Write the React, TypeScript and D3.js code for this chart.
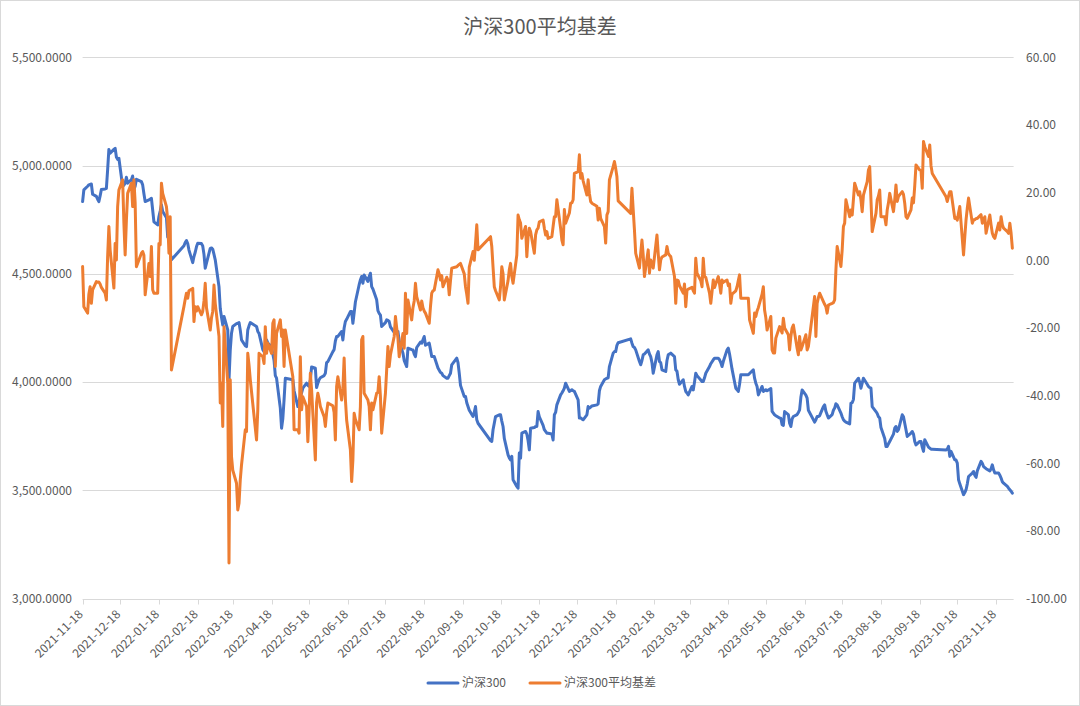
import React from "react";
import * as d3 from "d3";

// 沪深300 index (left axis)
const hs300Data: [string, number][] = [
["2021-11-18",4834],["2021-11-19",4888],["2021-11-22",4905],["2021-11-23",4911],["2021-11-24",4913],["2021-11-25",4915],["2021-11-26",4868],["2021-11-29",4858],["2021-11-30",4845],
["2021-12-01",4834],["2021-12-02",4860],["2021-12-03",4890],["2021-12-06",4892],["2021-12-07",4895],["2021-12-08",4980],["2021-12-09",5075],["2021-12-10",5057],["2021-12-13",5075],["2021-12-14",5080],["2021-12-15",5040],["2021-12-16",5029],["2021-12-17",5034],["2021-12-20",4903],["2021-12-21",4910],["2021-12-22",4919],["2021-12-23",4946],["2021-12-24",4919],["2021-12-27",4935],["2021-12-28",4952],["2021-12-29",4890],["2021-12-30",4905],["2021-12-31",4937],
["2022-01-04",4926],["2022-01-05",4911],["2022-01-06",4870],["2022-01-07",4834],["2022-01-10",4842],["2022-01-11",4845],["2022-01-12",4849],["2022-01-13",4795],["2022-01-14",4740],["2022-01-17",4726],["2022-01-18",4765],["2022-01-19",4790],["2022-01-20",4819],["2022-01-21",4788],["2022-01-24",4760],["2022-01-25",4670],["2022-01-26",4690],["2022-01-27",4600],["2022-01-28",4565],
["2022-02-07",4630],["2022-02-08",4645],["2022-02-09",4654],["2022-02-10",4640],["2022-02-11",4610],["2022-02-14",4552],["2022-02-15",4580],["2022-02-16",4600],["2022-02-17",4625],["2022-02-18",4641],["2022-02-21",4640],["2022-02-22",4629],["2022-02-23",4590],["2022-02-24",4526],["2022-02-25",4550],["2022-02-28",4618],
["2022-03-01",4620],["2022-03-02",4614],["2022-03-03",4590],["2022-03-04",4565],["2022-03-07",4441],["2022-03-08",4340],["2022-03-09",4300],["2022-03-10",4264],["2022-03-11",4303],["2022-03-14",4241],["2022-03-15",4011],["2022-03-16",4149],["2022-03-17",4226],["2022-03-18",4257],["2022-03-21",4270],["2022-03-22",4272],["2022-03-23",4275],["2022-03-24",4240],["2022-03-25",4195],["2022-03-28",4168],["2022-03-29",4164],["2022-03-30",4241],["2022-03-31",4260],
["2022-04-01",4275],["2022-04-06",4257],["2022-04-07",4234],["2022-04-08",4225],["2022-04-11",4150],["2022-04-12",4141],["2022-04-13",4170],["2022-04-14",4195],["2022-04-15",4180],["2022-04-18",4164],["2022-04-19",4130],["2022-04-20",4100],["2022-04-21",4030],["2022-04-22",4018],["2022-04-25",3880],["2022-04-26",3787],["2022-04-27",3830],["2022-04-28",3918],["2022-04-29",4018],
["2022-05-05",4011],["2022-05-06",3960],["2022-05-09",3887],["2022-05-10",3910],["2022-05-11",3934],["2022-05-12",3950],["2022-05-13",3972],["2022-05-16",3995],["2022-05-17",3985],["2022-05-18",3980],["2022-05-19",4011],["2022-05-20",4070],["2022-05-23",4064],["2022-05-24",3975],["2022-05-25",3995],["2022-05-26",4011],["2022-05-27",4020],["2022-05-30",4030],["2022-05-31",4041],
["2022-06-01",4090],["2022-06-02",4095],["2022-06-06",4141],["2022-06-07",4150],["2022-06-08",4190],["2022-06-09",4211],["2022-06-10",4211],["2022-06-13",4234],["2022-06-14",4195],["2022-06-15",4250],["2022-06-16",4280],["2022-06-17",4290],["2022-06-20",4326],["2022-06-21",4326],["2022-06-22",4272],["2022-06-23",4320],["2022-06-24",4370],["2022-06-27",4450],["2022-06-28",4472],["2022-06-29",4488],["2022-06-30",4457],
["2022-07-01",4495],["2022-07-04",4465],["2022-07-05",4488],["2022-07-06",4503],["2022-07-07",4441],["2022-07-08",4430],["2022-07-11",4380],["2022-07-12",4330],["2022-07-13",4318],["2022-07-14",4310],["2022-07-15",4257],["2022-07-18",4275],["2022-07-19",4288],["2022-07-20",4285],["2022-07-21",4280],["2022-07-22",4255],["2022-07-25",4230],["2022-07-26",4226],["2022-07-27",4230],["2022-07-28",4234],["2022-07-29",4190],
["2022-08-01",4134],["2022-08-02",4100],["2022-08-03",4085],["2022-08-04",4072],["2022-08-05",4157],["2022-08-08",4150],["2022-08-09",4149],["2022-08-10",4130],["2022-08-11",4118],["2022-08-12",4160],["2022-08-15",4185],["2022-08-16",4180],["2022-08-17",4195],["2022-08-18",4211],["2022-08-19",4170],["2022-08-22",4180],["2022-08-23",4150],["2022-08-24",4118],["2022-08-25",4118],["2022-08-26",4118],["2022-08-29",4065],["2022-08-30",4055],["2022-08-31",4045],
["2022-09-01",4041],["2022-09-02",4030],["2022-09-05",4018],["2022-09-06",4018],["2022-09-07",4030],["2022-09-08",4041],["2022-09-09",4080],["2022-09-13",4111],["2022-09-14",4090],["2022-09-15",4041],["2022-09-16",3985],["2022-09-19",3934],["2022-09-20",3934],["2022-09-21",3905],["2022-09-22",3887],["2022-09-23",3870],["2022-09-26",3841],["2022-09-27",3860],["2022-09-28",3887],["2022-09-29",3826],["2022-09-30",3810],
["2022-10-10",3730],["2022-10-11",3726],["2022-10-12",3780],["2022-10-13",3810],["2022-10-14",3841],["2022-10-17",3849],["2022-10-18",3849],["2022-10-19",3820],["2022-10-20",3795],["2022-10-21",3740],["2022-10-24",3664],["2022-10-25",3650],["2022-10-26",3641],["2022-10-27",3657],["2022-10-28",3549],["2022-10-31",3518],
["2022-11-01",3510],["2022-11-02",3672],["2022-11-03",3649],["2022-11-04",3764],["2022-11-07",3772],["2022-11-08",3760],["2022-11-09",3730],["2022-11-10",3687],["2022-11-11",3787],["2022-11-14",3790],["2022-11-15",3795],["2022-11-16",3795],["2022-11-17",3864],["2022-11-18",3840],["2022-11-21",3800],["2022-11-22",3780],["2022-11-23",3772],["2022-11-24",3764],["2022-11-25",3764],["2022-11-28",3760],["2022-11-29",3733],["2022-11-30",3849],
["2022-12-01",3860],["2022-12-02",3895],["2022-12-05",3941],["2022-12-06",3950],["2022-12-07",3960],["2022-12-08",3972],["2022-12-09",3995],["2022-12-12",3957],["2022-12-13",3960],["2022-12-14",3965],["2022-12-15",3960],["2022-12-16",3957],["2022-12-19",3918],["2022-12-20",3834],["2022-12-21",3835],["2022-12-22",3830],["2022-12-23",3826],["2022-12-26",3849],["2022-12-27",3887],["2022-12-28",3880],["2022-12-29",3885],["2022-12-30",3890],
["2023-01-03",3895],["2023-01-04",3900],["2023-01-05",3960],["2023-01-06",3980],["2023-01-09",4011],["2023-01-10",4015],["2023-01-11",4018],["2023-01-12",4020],["2023-01-13",4072],["2023-01-16",4134],["2023-01-17",4141],["2023-01-18",4141],["2023-01-19",4170],["2023-01-20",4182],["2023-01-30",4200],["2023-01-31",4180],
["2023-02-01",4164],["2023-02-02",4160],["2023-02-03",4149],["2023-02-06",4095],["2023-02-07",4080],["2023-02-08",4100],["2023-02-09",4126],["2023-02-10",4130],["2023-02-13",4149],["2023-02-14",4130],["2023-02-15",4118],["2023-02-16",4090],["2023-02-17",4041],["2023-02-20",4126],["2023-02-21",4141],["2023-02-22",4095],["2023-02-23",4090],["2023-02-24",4057],["2023-02-27",4049],["2023-02-28",4100],
["2023-03-01",4126],["2023-03-02",4130],["2023-03-03",4134],["2023-03-06",4118],["2023-03-07",4057],["2023-03-08",4050],["2023-03-09",4011],["2023-03-10",3990],["2023-03-13",4011],["2023-03-14",3980],["2023-03-15",3957],["2023-03-16",3950],["2023-03-17",3941],["2023-03-20",3980],["2023-03-21",3964],["2023-03-22",4000],["2023-03-23",4041],["2023-03-24",4030],["2023-03-27",4010],["2023-03-28",4003],["2023-03-29",4003],["2023-03-30",4020],["2023-03-31",4041],
["2023-04-03",4072],["2023-04-04",4085],["2023-04-06",4103],["2023-04-07",4110],["2023-04-10",4110],["2023-04-11",4103],["2023-04-12",4090],["2023-04-13",4072],["2023-04-14",4095],["2023-04-17",4149],["2023-04-18",4157],["2023-04-19",4130],["2023-04-20",4095],["2023-04-21",4060],["2023-04-24",3972],["2023-04-25",3965],["2023-04-26",3957],["2023-04-27",3990],["2023-04-28",4034],
["2023-05-04",4034],["2023-05-05",4040],["2023-05-08",4057],["2023-05-09",4018],["2023-05-10",3995],["2023-05-11",3980],["2023-05-12",3941],["2023-05-15",3980],["2023-05-16",3957],["2023-05-17",3960],["2023-05-18",3965],["2023-05-19",3960],["2023-05-22",3970],["2023-05-23",3865],["2023-05-24",3857],["2023-05-25",3849],["2023-05-26",3845],["2023-05-29",3834],["2023-05-30",3833],["2023-05-31",3803],
["2023-06-01",3800],["2023-06-02",3864],["2023-06-05",3850],["2023-06-06",3810],["2023-06-07",3795],["2023-06-08",3830],["2023-06-09",3841],["2023-06-12",3850],["2023-06-13",3860],["2023-06-14",3872],["2023-06-15",3930],["2023-06-16",3964],["2023-06-19",3940],["2023-06-20",3926],["2023-06-21",3870],["2023-06-26",3815],["2023-06-27",3826],["2023-06-28",3841],["2023-06-29",3841],["2023-06-30",3845],
["2023-07-03",3887],["2023-07-04",3895],["2023-07-05",3865],["2023-07-06",3849],["2023-07-07",3834],["2023-07-10",3850],["2023-07-11",3870],["2023-07-12",3880],["2023-07-13",3900],["2023-07-14",3895],["2023-07-17",3857],["2023-07-18",3840],["2023-07-19",3826],["2023-07-20",3820],["2023-07-21",3815],["2023-07-24",3807],["2023-07-25",3903],["2023-07-26",3905],["2023-07-27",3920],["2023-07-28",3995],["2023-07-31",4018],
["2023-08-01",4000],["2023-08-02",3972],["2023-08-03",3995],["2023-08-04",4018],["2023-08-07",3990],["2023-08-08",3980],["2023-08-09",3975],["2023-08-10",3972],["2023-08-11",3887],["2023-08-14",3864],["2023-08-15",3855],["2023-08-16",3840],["2023-08-17",3834],["2023-08-18",3790],["2023-08-21",3740],["2023-08-22",3703],["2023-08-23",3703],["2023-08-24",3715],["2023-08-25",3726],["2023-08-28",3760],["2023-08-29",3787],["2023-08-30",3795],["2023-08-31",3772],
["2023-09-01",3780],["2023-09-04",3849],["2023-09-05",3840],["2023-09-06",3810],["2023-09-07",3780],["2023-09-08",3749],["2023-09-11",3764],["2023-09-12",3772],["2023-09-13",3760],["2023-09-14",3726],["2023-09-15",3710],["2023-09-18",3726],["2023-09-19",3726],["2023-09-20",3700],["2023-09-21",3680],["2023-09-22",3734],["2023-09-25",3700],["2023-09-26",3695],["2023-09-27",3690],["2023-09-28",3690],
["2023-10-09",3687],["2023-10-10",3690],["2023-10-11",3703],["2023-10-12",3657],["2023-10-13",3680],["2023-10-16",3641],["2023-10-17",3640],["2023-10-18",3626],["2023-10-19",3549],["2023-10-20",3530],["2023-10-23",3480],["2023-10-24",3490],["2023-10-25",3503],["2023-10-26",3530],["2023-10-27",3564],["2023-10-30",3580],["2023-10-31",3587],
["2023-11-01",3570],["2023-11-02",3560],["2023-11-03",3590],["2023-11-06",3634],["2023-11-07",3625],["2023-11-08",3610],["2023-11-09",3605],["2023-11-10",3600],["2023-11-13",3590],["2023-11-14",3600],["2023-11-15",3618],["2023-11-16",3595],["2023-11-17",3580],["2023-11-20",3580],["2023-11-21",3570],["2023-11-22",3557],["2023-11-23",3540],["2023-11-24",3533],["2023-11-27",3518],["2023-11-28",3510],["2023-11-29",3503],["2023-11-30",3496],
["2023-12-01",3487]
];

// 沪深300平均基差 (right axis)
const basisData: [string, number][] = [
["2021-11-18",-1.8],["2021-11-19",-13.7],["2021-11-22",-15.6],["2021-11-23",-10],["2021-11-24",-7.8],["2021-11-25",-12.7],["2021-11-26",-8.7],["2021-11-29",-6.3],["2021-11-30",-6.5],
["2021-12-01",-6.4],["2021-12-02",-7.0],["2021-12-03",-8],["2021-12-06",-9.7],["2021-12-07",-11.7],["2021-12-08",1.1],["2021-12-09",10.0],["2021-12-10",3.1],["2021-12-13",-8.2],["2021-12-14",5.0],["2021-12-15",0.1],["2021-12-16",15.9],["2021-12-17",20.8],["2021-12-20",23.8],["2021-12-21",11.0],["2021-12-22",1.6],["2021-12-23",11.9],["2021-12-24",19.8],["2021-12-27",22.8],["2021-12-28",15.9],["2021-12-29",23.8],["2021-12-30",16.9],["2021-12-31",-1.9],
["2022-01-04",2.1],["2022-01-05",2.6],["2022-01-06",1.5],["2022-01-07",-10.2],["2022-01-10",-0.9],["2022-01-11",-4.8],["2022-01-12",4.1],["2022-01-13",-8.7],["2022-01-14",-9.7],["2022-01-17",-9.7],["2022-01-18",5.0],["2022-01-19",4.6],["2022-01-20",22.8],["2022-01-21",19.8],["2022-01-24",15.9],["2022-01-25",11.9],["2022-01-26",2.1],["2022-01-27",12.9],["2022-01-28",-32.4],
["2022-02-07",-13.6],["2022-02-08",-11.5],["2022-02-09",-9.7],["2022-02-10",-11.2],["2022-02-11",-9],["2022-02-14",-8.3],["2022-02-15",-18.1],["2022-02-16",-13.7],["2022-02-17",-15],["2022-02-18",-13.7],["2022-02-21",-16.1],["2022-02-22",-15.1],["2022-02-23",-12],["2022-02-24",-6.8],["2022-02-25",-14],["2022-02-28",-20.6],
["2022-03-01",-17],["2022-03-02",-15.1],["2022-03-03",-7.3],["2022-03-04",-12.7],["2022-03-07",-22.5],["2022-03-08",-42.2],["2022-03-09",-36.3],["2022-03-10",-49.1],["2022-03-11",-19.6],["2022-03-14",-36.3],["2022-03-15",-89.5],["2022-03-16",-35.3],["2022-03-17",-58],["2022-03-18",-62],["2022-03-21",-65.9],["2022-03-22",-73.8],["2022-03-23",-71.8],["2022-03-24",-64.9],["2022-03-25",-60.5],["2022-03-28",-50.1],["2022-03-29",-50.6],["2022-03-30",-27.5],["2022-03-31",-31],
["2022-04-01",-35.3],["2022-04-06",-53.1],["2022-04-07",-44.2],["2022-04-08",-27.5],["2022-04-11",-28.5],["2022-04-12",-30.5],["2022-04-13",-19.6],["2022-04-14",-27.5],["2022-04-15",-24.5],["2022-04-18",-27.5],["2022-04-19",-18.6],["2022-04-20",-17.6],["2022-04-21",-31.4],["2022-04-22",-21.6],["2022-04-25",-17.6],["2022-04-26",-22.5],["2022-04-27",-20.6],["2022-04-28",-31.4],["2022-04-29",-20.6],
["2022-05-05",-34.4],["2022-05-06",-50.1],["2022-05-09",-50.1],["2022-05-10",-51.1],["2022-05-11",-28.5],["2022-05-12",-44.2],["2022-05-13",-40.3],["2022-05-16",-43.2],["2022-05-17",-53.6],["2022-05-18",-45],["2022-05-19",-33.4],["2022-05-20",-38.3],["2022-05-23",-59],["2022-05-24",-42],["2022-05-25",-39.3],["2022-05-26",-41],["2022-05-27",-43.2],["2022-05-30",-46.2],["2022-05-31",-49.1],
["2022-06-01",-45],["2022-06-02",-42.2],["2022-06-06",-43],["2022-06-07",-45],["2022-06-08",-53.1],["2022-06-09",-37.3],["2022-06-10",-34.4],["2022-06-13",-41.3],["2022-06-14",-38],["2022-06-15",-28.9],["2022-06-16",-41],["2022-06-17",-47.2],["2022-06-20",-56],["2022-06-21",-65.4],["2022-06-22",-59],["2022-06-23",-45.2],["2022-06-24",-47],["2022-06-27",-50.1],["2022-06-28",-43.2],["2022-06-29",-23.5],["2022-06-30",-22.5],
["2022-07-01",-39.3],["2022-07-04",-41.3],["2022-07-05",-43.2],["2022-07-06",-50.1],["2022-07-07",-42.2],["2022-07-08",-44.2],["2022-07-11",-39.3],["2022-07-12",-39],["2022-07-13",-34.4],["2022-07-14",-40.3],["2022-07-15",-51.1],["2022-07-18",-39.3],["2022-07-19",-32.4],["2022-07-20",-25.5],["2022-07-21",-31.4],["2022-07-22",-28],["2022-07-25",-22.5],["2022-07-26",-16.6],["2022-07-27",-20],["2022-07-28",-23],["2022-07-29",-28.5],
["2022-08-01",-21.6],["2022-08-02",-26],["2022-08-03",-9.7],["2022-08-04",-21.6],["2022-08-05",-11.7],["2022-08-08",-17.6],["2022-08-09",-14],["2022-08-10",-12],["2022-08-11",-6.8],["2022-08-12",-10.7],["2022-08-15",-14.7],["2022-08-16",-12],["2022-08-17",-14],["2022-08-18",-15],["2022-08-19",-15.6],["2022-08-22",-18.6],["2022-08-23",-13.7],["2022-08-24",-9.7],["2022-08-25",-9],["2022-08-26",-8.8],["2022-08-29",-2.8],["2022-08-30",-4],["2022-08-31",-5.8],
["2022-09-01",-4.5],["2022-09-02",-7.8],["2022-09-05",-5],["2022-09-06",-6],["2022-09-07",-10.2],["2022-09-08",-6],["2022-09-09",-2.3],["2022-09-13",-1.9],["2022-09-14",-1.5],["2022-09-15",-1.2],["2022-09-16",-0.9],["2022-09-19",-4],["2022-09-20",-7.8],["2022-09-21",-10],["2022-09-22",-12.7],["2022-09-23",-2],["2022-09-26",2.6],["2022-09-27",0],["2022-09-28",5],["2022-09-29",10.5],["2022-09-30",3.1],
["2022-10-10",7.0],["2022-10-11",4.1],["2022-10-12",-2],["2022-10-13",-7.8],["2022-10-14",-9],["2022-10-17",-11.7],["2022-10-18",-7.8],["2022-10-19",-1.9],["2022-10-20",-4],["2022-10-21",-11.7],["2022-10-24",-6],["2022-10-25",-2.8],["2022-10-26",-0.9],["2022-10-27",-4.8],["2022-10-28",-6.8],["2022-10-31",1.6],
["2022-11-01",13.4],["2022-11-02",12],["2022-11-03",11],["2022-11-04",6.5],["2022-11-07",10],["2022-11-08",1.1],["2022-11-09",7.0],["2022-11-10",9.5],["2022-11-11",8.5],["2022-11-14",2.1],["2022-11-15",7.5],["2022-11-16",9.0],["2022-11-17",9.5],["2022-11-18",11.4],["2022-11-21",11.9],["2022-11-22",9.5],["2022-11-23",7.5],["2022-11-24",8.5],["2022-11-25",6.5],["2022-11-28",7.0],["2022-11-29",10],["2022-11-30",12.9],
["2022-12-01",12.9],["2022-12-02",17.9],["2022-12-05",9.5],["2022-12-06",6.0],["2022-12-07",4.6],["2022-12-08",15],["2022-12-09",11],["2022-12-12",14],["2022-12-13",16.9],["2022-12-14",17],["2022-12-15",17.9],["2022-12-16",25.7],["2022-12-19",26.2],["2022-12-20",31.2],["2022-12-21",24.3],["2022-12-22",25.7],["2022-12-23",23.5],["2022-12-26",19.3],["2022-12-27",23.8],["2022-12-28",19.8],["2022-12-29",17.4],["2022-12-30",16.9],
["2023-01-03",16],["2023-01-04",11.9],["2023-01-05",15.4],["2023-01-06",12.4],["2023-01-09",10],["2023-01-10",5.1],["2023-01-11",13.4],["2023-01-12",14.4],["2023-01-13",23.8],["2023-01-16",27.7],["2023-01-17",29.2],["2023-01-18",27.2],["2023-01-19",24.7],["2023-01-20",17.6],["2023-01-30",13.9],["2023-01-31",21.3],
["2023-02-01",15],["2023-02-02",9.0],["2023-02-03",2.1],["2023-02-06",-2.3],["2023-02-07",2.1],["2023-02-08",6.0],["2023-02-09",1.6],["2023-02-10",-4.8],["2023-02-13",3.1],["2023-02-14",-3.8],["2023-02-15",0.1],["2023-02-16",-1],["2023-02-17",-2.3],["2023-02-20",7.5],["2023-02-21",2],["2023-02-22",-2.8],["2023-02-23",0.1],["2023-02-24",1.0],["2023-02-27",1.6],["2023-02-28",4.1],
["2023-03-01",2.1],["2023-03-02",1.5],["2023-03-03",1.1],["2023-03-06",-4.8],["2023-03-07",-12.7],["2023-03-08",-5.8],["2023-03-09",-6],["2023-03-10",-7.5],["2023-03-13",-9.7],["2023-03-14",-7],["2023-03-15",-13.7],["2023-03-16",-8.8],["2023-03-17",-8.5],["2023-03-20",-8],["2023-03-21",-9],["2023-03-22",-9.7],["2023-03-23",0.6],["2023-03-24",-3.8],["2023-03-27",-6],["2023-03-28",-7.8],["2023-03-29",0.6],["2023-03-30",-4.8],["2023-03-31",-5],
["2023-04-03",-9.7],["2023-04-04",-12.7],["2023-04-06",-5.8],["2023-04-07",-8],["2023-04-10",-4.8],["2023-04-11",-7],["2023-04-12",-9.7],["2023-04-13",-5.8],["2023-04-14",-6.5],["2023-04-17",-5.8],["2023-04-18",-7.5],["2023-04-19",-7],["2023-04-20",-12.7],["2023-04-21",-10],["2023-04-24",-9],["2023-04-25",-7.8],["2023-04-26",-6],["2023-04-27",-4.3],["2023-04-28",-11.2],
["2023-05-04",-11.2],["2023-05-05",-17.6],["2023-05-08",-21.6],["2023-05-09",-15.6],["2023-05-10",-16.6],["2023-05-11",-15],["2023-05-12",-14],["2023-05-15",-10],["2023-05-16",-7.8],["2023-05-17",-14.7],["2023-05-18",-17],["2023-05-19",-20.6],["2023-05-22",-16.6],["2023-05-23",-26.5],["2023-05-24",-27.4],["2023-05-25",-27.4],["2023-05-26",-23],["2023-05-29",-19.6],["2023-05-30",-20.5],["2023-05-31",-21.5],
["2023-06-01",-17.1],["2023-06-02",-20],["2023-06-05",-22],["2023-06-06",-26.5],["2023-06-07",-22.5],["2023-06-08",-20],["2023-06-09",-19.1],["2023-06-12",-26],["2023-06-13",-27.9],["2023-06-14",-22.5],["2023-06-15",-26.5],["2023-06-16",-25.5],["2023-06-19",-22],["2023-06-20",-26.5],["2023-06-21",-25.5],["2023-06-26",-10.7],["2023-06-27",-22.5],["2023-06-28",-12.7],["2023-06-29",-11],["2023-06-30",-9.7],
["2023-07-03",-12.2],["2023-07-04",-13],["2023-07-05",-13.7],["2023-07-06",-15.6],["2023-07-07",-13.2],["2023-07-10",-12.7],["2023-07-11",-12.5],["2023-07-12",-11.7],["2023-07-13",-2.8],["2023-07-14",4.1],["2023-07-17",-1.8],["2023-07-18",3],["2023-07-19",10],["2023-07-20",11],["2023-07-21",17.9],["2023-07-24",12.9],["2023-07-25",14.9],["2023-07-26",13.4],["2023-07-27",18],["2023-07-28",22.8],["2023-07-31",19.3],
["2023-08-01",20.3],["2023-08-02",17.9],["2023-08-03",14.4],["2023-08-04",19.3],["2023-08-07",23.3],["2023-08-08",26.7],["2023-08-09",27.7],["2023-08-10",18],["2023-08-11",8.5],["2023-08-14",13.9],["2023-08-15",17.9],["2023-08-16",19],["2023-08-17",20.8],["2023-08-18",12.9],["2023-08-21",12.9],["2023-08-22",10.5],["2023-08-23",14.9],["2023-08-24",17],["2023-08-25",19.8],["2023-08-28",14.4],["2023-08-29",17.9],["2023-08-30",22.3],["2023-08-31",17.4],
["2023-09-01",18.9],["2023-09-04",20.3],["2023-09-05",19.5],["2023-09-06",16.9],["2023-09-07",12.9],["2023-09-08",12.4],["2023-09-11",14.9],["2023-09-12",18.4],["2023-09-13",17],["2023-09-14",22],["2023-09-15",28.2],["2023-09-18",26.7],["2023-09-19",26.5],["2023-09-20",21.3],["2023-09-21",35.1],["2023-09-22",33.6],["2023-09-25",30.7],["2023-09-26",34.1],["2023-09-27",28],["2023-09-28",25.7],
["2023-10-09",18.8],["2023-10-10",17.4],["2023-10-11",19],["2023-10-12",20.3],["2023-10-13",20.3],["2023-10-16",12.4],["2023-10-17",12.6],["2023-10-18",11.9],["2023-10-19",14],["2023-10-20",15.9],["2023-10-23",1.6],["2023-10-24",7.0],["2023-10-25",12],["2023-10-26",15.4],["2023-10-27",18.4],["2023-10-30",11],["2023-10-31",12],
["2023-11-01",12],["2023-11-02",12.4],["2023-11-03",12.4],["2023-11-06",13.5],["2023-11-07",11],["2023-11-08",12],["2023-11-09",12.9],["2023-11-10",8.0],["2023-11-13",13.4],["2023-11-14",10.5],["2023-11-15",8.0],["2023-11-16",7],["2023-11-17",6.5],["2023-11-20",11],["2023-11-21",9.0],["2023-11-22",12.9],["2023-11-23",10.5],["2023-11-24",9.5],["2023-11-27",8.5],["2023-11-28",8],["2023-11-29",11],["2023-11-30",8.0],
["2023-12-01",3.6]
];

const leftTicks = [3000, 3500, 4000, 4500, 5000, 5500];
const rightTicks = [-100, -80, -60, -40, -20, 0, 20, 40, 60];
const dateTicks = [
  "2021-11-18","2021-12-18","2022-01-18","2022-02-18","2022-03-18","2022-04-18","2022-05-18","2022-06-18",
  "2022-07-18","2022-08-18","2022-09-18","2022-10-18","2022-11-18","2022-12-18","2023-01-18","2023-02-18",
  "2023-03-18","2023-04-18","2023-05-18","2023-06-18","2023-07-18","2023-08-18","2023-09-18","2023-10-18","2023-11-18"
];
const seriesNames = ["沪深300", "沪深300平均基差"];
const seriesColors = ["#4472C4", "#ED7D31"];
const titleText = "沪深300平均基差";

const W = 1080;
const H = 706;
const FONT = "'Noto Sans CJK SC', 'Liberation Sans', sans-serif";
const TEXT = "#595959";
const GRID = "#D9D9D9";

export default function App() {
  const parse = d3.utcParse("%Y-%m-%d");
  const left = 82.6, right = 1013.6, top = 57.4, bottom = 598.6;
  const x = d3.scaleUtc().domain([parse("2021-11-18")!, parse("2023-12-02")!]).range([left, right]);
  const yL = d3.scaleLinear().domain([3000, 5500]).range([bottom, top]);
  const yR = d3.scaleLinear().domain([-100, 60]).range([bottom, top]);
  const loc = d3.formatLocale({ decimal: ".", thousands: ",", grouping: [3], currency: ["", ""], minus: "-" });
  const fmtL = loc.format(",.4f");
  const fmtR = loc.format(".2f");

  const lineL = d3.line<[string, number]>().x(d => x(parse(d[0])!)).y(d => yL(d[1]));
  const lineR = d3.line<[string, number]>().x(d => x(parse(d[0])!)).y(d => yR(d[1]));

  return (
    <svg width={W} height={H} style={{ position: "absolute", left: 0, top: 0, background: "#fff" }} fontFamily={FONT}>
      <rect x={0.5} y={0.5} width={W - 1} height={H - 1} fill="#fff" stroke="#D9D9D9" />
      <text x={540} y={34} textAnchor="middle" fontSize={20} fill={TEXT}>{titleText}</text>

      {leftTicks.map(t => (
        <line key={"g" + t} x1={left} x2={right} y1={Math.round(yL(t)) + 0.5} y2={Math.round(yL(t)) + 0.5} stroke={GRID} strokeWidth={1} />
      ))}
      {dateTicks.map(d => {
        const tx = Math.round(x(parse(d)!)) + 0.5;
        return <line key={"t" + d} x1={tx} x2={tx} y1={Math.round(bottom) + 0.5} y2={Math.round(bottom) + 5.5} stroke={GRID} strokeWidth={1} />;
      })}

      {leftTicks.map(t => (
        <text key={"l" + t} x={72} y={yL(t)} dy="0.35em" textAnchor="end" fontSize={12} fill={TEXT}>{fmtL(t)}</text>
      ))}
      {rightTicks.map(t => (
        <text key={"r" + t} x={1026} y={yR(t)} dy="0.35em" textAnchor="start" fontSize={12} fill={TEXT}>{fmtR(t)}</text>
      ))}
      {dateTicks.map(d => {
        const tx = x(parse(d)!);
        return (
          <text key={"x" + d} transform={`translate(${tx + 1},${615}) rotate(-45)`} textAnchor="end" fontSize={12} fill={TEXT}>{d}</text>
        );
      })}

      <path d={lineL(hs300Data) || ""} fill="none" stroke={seriesColors[0]} strokeWidth={3} strokeLinejoin="round" strokeLinecap="round" />
      <path d={lineR(basisData) || ""} fill="none" stroke={seriesColors[1]} strokeWidth={3} strokeLinejoin="round" strokeLinecap="round" />

      <g>
        <line x1={428} x2={458} y1={683} y2={683} stroke={seriesColors[0]} strokeWidth={3} strokeLinecap="round" />
        <text x={462} y={683} dy="0.35em" fontSize={12} fill={TEXT}>{seriesNames[0]}</text>
        <line x1={530} x2={560} y1={683} y2={683} stroke={seriesColors[1]} strokeWidth={3} strokeLinecap="round" />
        <text x={564} y={683} dy="0.35em" fontSize={12} fill={TEXT}>{seriesNames[1]}</text>
      </g>
    </svg>
  );
}
